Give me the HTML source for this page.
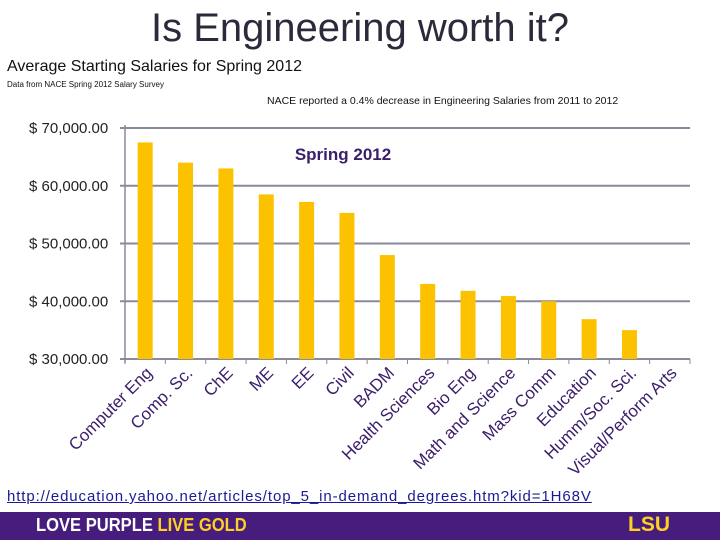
<!DOCTYPE html>
<html><head><meta charset="utf-8"><style>
body{margin:0;width:720px;height:540px;overflow:hidden;background:#fff;font-family:"Liberation Sans",sans-serif;position:relative}
.a{position:absolute;white-space:nowrap}
</style></head><body>
<div class="a" style="left:0;width:720px;top:6px;text-align:center;font-size:40px;color:#2a2a3a">Is Engineering worth it?</div>
<div class="a" style="left:7px;top:58px;font-size:16px;color:#111">Average Starting Salaries for Spring 2012</div>
<div class="a" style="left:7px;top:80px;font-size:8px;color:#111">Data from NACE Spring 2012 Salary Survey</div>
<div class="a" style="left:267px;top:95px;font-size:10.5px;color:#111">NACE reported a 0.4% decrease in Engineering Salaries from 2011 to 2012</div>
<svg id="c" width="720" height="540" style="position:absolute;left:0;top:0"></svg>
<a class="a" style="left:7px;top:488px;font-size:15px;letter-spacing:0.9px;color:#1a1a99;text-decoration:underline">http://education.yahoo.net/articles/top_5_in-demand_degrees.htm?kid=1H68V</a>
<div class="a" style="left:0;top:512px;width:720px;height:28px;background:#461d7c"></div>
<div class="a" style="left:36px;top:515px;font-size:18px;font-weight:bold;color:#fff;transform:scaleX(0.92);transform-origin:left">LOVE PURPLE <span style="color:#fdd023">LIVE GOLD</span></div>
<div class="a" style="left:628px;top:513px;font-size:21px;font-weight:bold;color:#fdd023">LSU</div>
<script>
const categories=["Computer Eng","Comp. Sc.","ChE","ME","EE","Civil","BADM","Health Sciences","Bio Eng","Math and Science","Mass Comm","Education","Humm/Soc. Sci.","Visual/Perform Arts"];
const salaries=[67500,64000,63000,58500,57200,55300,48000,43000,41800,40900,40000,36900,35000,30000];
const ticks=[30000,40000,50000,60000,70000];
const tickLabels=["$ 30,000.00","$ 40,000.00","$ 50,000.00","$ 60,000.00","$ 70,000.00"];
const svg=document.getElementById('c');const NS='http://www.w3.org/2000/svg';
const x0=125,x1=690,yMin=30000,yMax=70000,yB=359,yT=128;
const y=v=>yB-(v-yMin)/(yMax-yMin)*(yB-yT);
const step=(x1-x0)/categories.length;
const xc=i=>x0+step*(i+0.5);
function mk(t,a){const e=document.createElementNS(NS,t);for(const k in a)e.setAttribute(k,a[k]);svg.appendChild(e);return e;}
ticks.forEach((t,i)=>{
 const g=mk('line',{x1:x0-5,x2:x1,y1:y(t),y2:y(t),stroke:'#8a8a9a','stroke-width':2});
 
 
 const l=mk('text',{x:29,y:y(t)+5,'font-size':15,fill:'#222','font-family':'Liberation Sans,sans-serif'});
 l.textContent=tickLabels[i];
 
 
});
const ax=mk('line',{x1:x0,x2:x0,y1:yT-3,y2:yB+4,stroke:'#8a8a9a','stroke-width':1.5});


for(let i=0;i<=categories.length;i++){const tk=mk('line',{x1:x0+step*i,x2:x0+step*i,y1:yB,y2:yB+5,stroke:'#8a8a9a','stroke-width':1});
 
 }
salaries.forEach((v,i)=>{
 const h=Math.max(0,yB-y(Math.max(v,yMin)));
 const b=mk('rect',{x:xc(i)-7.5,y:yB-h,width:15,height:h,fill:'#fcc200'});
 
 
});
categories.forEach((c,i)=>{
 const px=xc(i)+8,py=374;
 const t=mk('text',{x:px,y:py,'text-anchor':'end','font-size':17,fill:'#3b1e6b','font-family':'Liberation Sans,sans-serif',transform:`rotate(-45 ${px} ${py})`});
 t.textContent=c;
 
 
});
const s=mk('text',{x:343,y:160,'text-anchor':'middle','font-size':17,'font-weight':'bold',fill:'#3b1e6b','font-family':'Liberation Sans,sans-serif'});
s.textContent='Spring 2012';


</script>
</body></html>
